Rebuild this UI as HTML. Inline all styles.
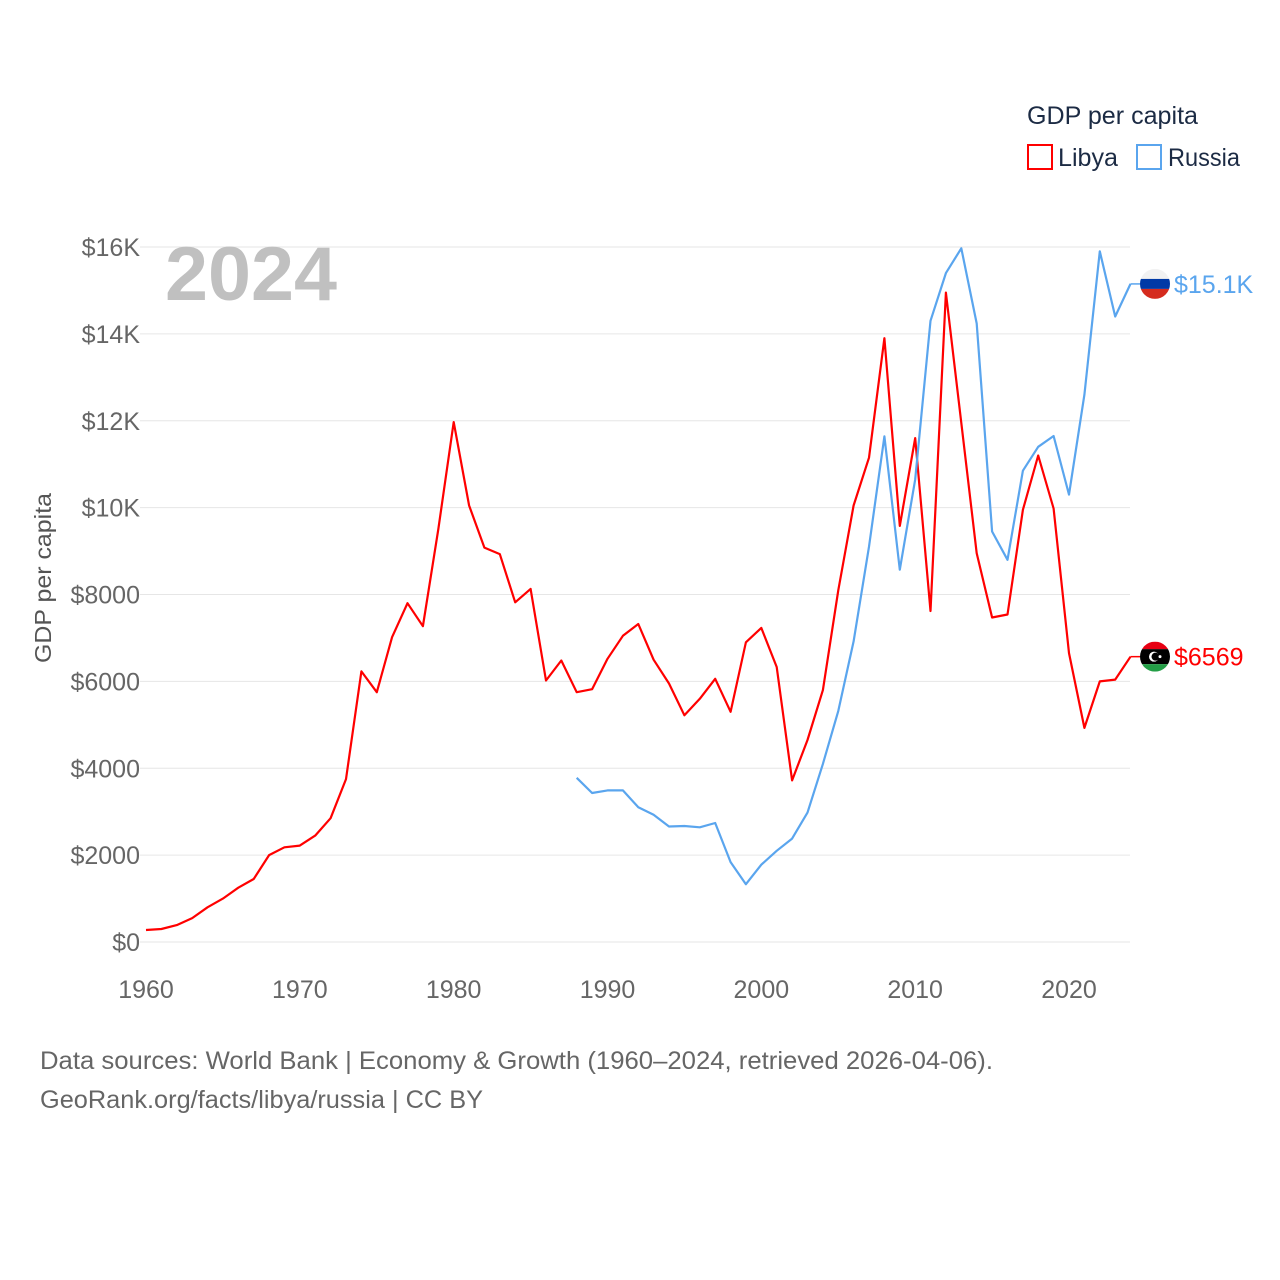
<!DOCTYPE html>
<html><head><meta charset="utf-8"><style>
html,body{margin:0;padding:0;background:#fff;}
svg{display:block;font-family:"Liberation Sans",sans-serif;}
</style></head><body>
<svg id="chart" width="1280" height="1280" viewBox="0 0 1280 1280">
<g id="grid"></g>
<g id="yticks"></g>
<g id="xticks"></g>
<text x="165" y="300" font-size="76" font-weight="bold" fill="#c0c0c0" textLength="172" lengthAdjust="spacingAndGlyphs">2024</text>
<text transform="translate(51,578) rotate(-90)" text-anchor="middle" font-size="23" fill="#555" textLength="170" lengthAdjust="spacingAndGlyphs">GDP per capita</text>
<g id="series"></g>
<g>
<text x="1027" y="124" font-size="25" fill="#1c2b44" textLength="171" lengthAdjust="spacingAndGlyphs">GDP per capita</text>
<g><rect x="1028" y="145" width="24" height="24" fill="none" stroke="#f00" stroke-width="2"/><text x="1058" y="166" font-size="25" fill="#1c2b44" textLength="60" lengthAdjust="spacingAndGlyphs">Libya</text></g>
<g><rect x="1137" y="145" width="24" height="24" fill="none" stroke="#5aa5ee" stroke-width="2"/><text x="1168" y="166" font-size="25" fill="#1c2b44" textLength="72" lengthAdjust="spacingAndGlyphs">Russia</text></g>
</g>
<text x="40" y="1069" font-size="25" fill="#666" textLength="953" lengthAdjust="spacingAndGlyphs">Data sources: World Bank | Economy &amp; Growth (1960–2024, retrieved 2026-04-06).</text>
<text x="40" y="1108" font-size="25" fill="#666" textLength="443" lengthAdjust="spacingAndGlyphs">GeoRank.org/facts/libya/russia | CC BY</text>
</svg>
<script>
const yTicks=[0,2000,4000,6000,8000,10000,12000,14000,16000];
const yTickLabels=["$0","$2000","$4000","$6000","$8000","$10K","$12K","$14K","$16K"];
const xTicks=[1960,1970,1980,1990,2000,2010,2020];
const libyaYears=[1960,1961,1962,1963,1964,1965,1966,1967,1968,1969,1970,1971,1972,1973,1974,1975,1976,1977,1978,1979,1980,1981,1982,1983,1984,1985,1986,1987,1988,1989,1990,1991,1992,1993,1994,1995,1996,1997,1998,1999,2000,2001,2002,2003,2004,2005,2006,2007,2008,2009,2010,2011,2012,2013,2014,2015,2016,2017,2018,2019,2020,2021,2022,2023,2024];
const libyaValues=[276,300,390,550,800,1000,1250,1450,2000,2180,2220,2450,2850,3750,6230,5750,7020,7800,7270,9500,11970,10050,9080,8930,7820,8130,6020,6480,5750,5820,6520,7050,7320,6500,5950,5220,5600,6060,5300,6900,7230,6330,3720,4650,5800,8100,10050,11150,13900,9580,11600,7620,14950,11950,8950,7470,7540,9950,11200,9980,6650,4930,6000,6040,6569];
const russiaYears=[1988,1989,1990,1991,1992,1993,1994,1995,1996,1997,1998,1999,2000,2001,2002,2003,2004,2005,2006,2007,2008,2009,2010,2011,2012,2013,2014,2015,2016,2017,2018,2019,2020,2021,2022,2023,2024];
const russiaValues=[3780,3430,3490,3490,3100,2930,2660,2670,2640,2740,1840,1330,1780,2100,2380,2980,4100,5320,6920,9100,11640,8570,10650,14300,15400,15970,14240,9450,8800,10850,11400,11650,10300,12600,15900,14400,15150];
const endLabels=["$6569","$15.1K"];

const NS="http://www.w3.org/2000/svg";
const x=y=>146+(y-1960)*(923/60);
const yv=v=>942-v*(695/16000);
function mk(tag,attrs,parent,text){const e=document.createElementNS(NS,tag);for(const k in attrs)e.setAttribute(k,attrs[k]);if(text!==undefined)e.textContent=text;parent.appendChild(e);return e;}
const grid=document.getElementById('grid'),yt=document.getElementById('yticks'),xt=document.getElementById('xticks'),ser=document.getElementById('series');
yTicks.forEach((v,i)=>{
 const l=mk('line',{x1:140,x2:1130,y1:yv(v),y2:yv(v),stroke:'#e6e6e6','stroke-width':1},grid);
 
 
 const t=mk('text',{x:140,y:yv(v)+9,'text-anchor':'end','font-size':25,fill:'#666'},yt,yTickLabels[i]);
 
 
});
xTicks.forEach(v=>{
 const t=mk('text',{x:x(v),y:998,'text-anchor':'middle','font-size':25,fill:'#666'},xt,String(v));
 
 
});
function line(years,vals,color,name){
 const d=years.map((yr,i)=>(i?'L':'M')+x(yr).toFixed(1)+','+yv(vals[i]).toFixed(1)).join('');
 const p=mk('path',{d:d,fill:'none',stroke:color,'stroke-width':2.2,'stroke-linejoin':'round'},ser);
 
 
}
line(libyaYears,libyaValues,'#f00','libya-line');
line(russiaYears,russiaValues,'#5aa5ee','russia-line');
function flag(val,years,color,label,kind){
 const ex=x(years[years.length-1]),ey=yv(val);
 mk('line',{x1:ex,x2:1140,y1:ey,y2:ey,stroke:color,'stroke-width':1.5},ser);
 const g=mk('g',{},ser);
 
 
 const cx=1155,r=15;
 const cid='c'+kind;
 const cp=mk('clipPath',{id:cid},g);mk('circle',{cx:cx,cy:ey,r:r},cp);
 const cols=kind==='russia'?['#f2f2f2','#0039a6','#d52b1e']:['#e70013','#000','#239e46'];
 const hs=kind==='russia'?[1/3,1/3,1/3]:[0.25,0.5,0.25];
 let yy=ey-r;cols.forEach((c,i)=>{mk('rect',{x:cx-r,y:yy,width:2*r,height:hs[i]*2*r,fill:c,'clip-path':'url(#'+cid+')'},g);yy+=hs[i]*2*r;});
 if(kind==='libya'){mk('circle',{cx:cx-1,cy:ey,r:5,fill:'#fff'},g);mk('circle',{cx:cx+0.5,cy:ey,r:4,fill:'#000'},g);mk('circle',{cx:cx+5,cy:ey,r:1.5,fill:'#fff'},g);}
 const t=mk('text',{x:1174,y:ey+9,'font-size':25,fill:color},ser,label);
 
 
}
flag(libyaValues[libyaValues.length-1],libyaYears,'#f00',endLabels[0],'libya');
flag(russiaValues[russiaValues.length-1],russiaYears,'#5aa5ee',endLabels[1],'russia');
</script>
</body></html>
